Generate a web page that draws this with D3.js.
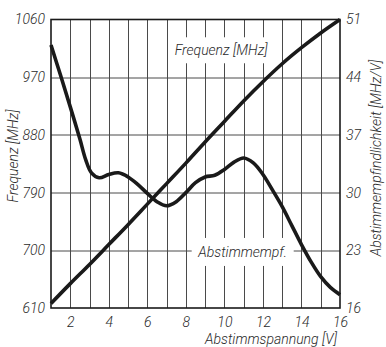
<!DOCTYPE html>
<html>
<head>
<meta charset="utf-8">
<script src="https://cdn.jsdelivr.net/npm/d3@7"></script>
<style>
  html, body { margin: 0; padding: 0; background: #fff; }
  svg { display: block; }
</style>
</head>
<body>
<div id="chart"></div>
<script>
/* Abstimmkurve: Frequenz und Abstimmempfindlichkeit über der Abstimmspannung */

// ── Data ──
var voltage = [1, 2, 3, 4, 5, 6, 7, 8, 9, 10, 11, 12, 13, 14, 15, 16];
var frequency = [617, 648, 678, 709, 740, 772, 804, 836, 869, 901, 933, 963, 991, 1016, 1039, 1060];

var sensVoltage = [1, 1.5, 2, 2.5, 2.8, 3.1, 3.5, 4, 4.5, 5, 5.5, 6, 6.5, 7, 7.5, 8, 8.5, 9, 9.5,
  10, 10.5, 11, 11.5, 12, 12.5, 13, 13.5, 14, 14.5, 15, 15.5, 16];
var sensitivity = [47.9, 44.2, 40.4, 36.5, 34.0, 32.4, 31.8, 32.2, 32.4, 31.9, 31.0, 29.9, 28.9, 28.4, 28.9,
  30.0, 31.2, 31.9, 32.1, 32.8, 33.7, 34.2, 33.6, 32.2, 30.3, 28.3, 26.0, 23.7, 21.6, 19.8, 18.5, 17.6];

var freqTicks = [610, 700, 790, 880, 970, 1060];
var sensTicks = [16, 23, 30, 37, 44, 51];
var xTickLabels = [2, 4, 6, 8, 10, 12, 14, 16];

(function () {
  'use strict';

  // ── Constants ──
  var WIDTH = 386;
  var HEIGHT = 347;
  var MARGIN = { top: 19.5, right: 46, bottom: 39, left: 51 };
  var FONT = 'Roboto, "Liberation Sans", sans-serif';
  var FONT_WEIGHT = 300;
  var INK = '#1a1a1a';
  var GRID = '#4a4a4a';
  var TEXT = '#2a2a2a';

  var innerW = WIDTH - MARGIN.left - MARGIN.right;
  var innerH = HEIGHT - MARGIN.top - MARGIN.bottom;

  var svg = d3.select('#chart').append('svg')
    .attr('width', WIDTH)
    .attr('height', HEIGHT);

  var g = svg.append('g')
    .attr('transform', 'translate(' + MARGIN.left + ',' + MARGIN.top + ')');

  // ── Scales ──
  var x = d3.scaleLinear().domain([1, 16]).range([0, innerW]);
  var yF = d3.scaleLinear().domain([610, 1060]).range([innerH, 0]);
  var yS = d3.scaleLinear().domain([16, 51]).range([innerH, 0]);

  // ── Grid ──
  g.append('g')
    .selectAll('line')
    .data(d3.range(2, 16))
    .join('line')
    .attr('x1', function (d) { return Math.round(x(d)) + 0.5; })
    .attr('x2', function (d) { return Math.round(x(d)) + 0.5; })
    .attr('y1', 0)
    .attr('y2', innerH)
    .attr('stroke', GRID)
    .attr('stroke-width', 1);

  g.append('g')
    .selectAll('line')
    .data(freqTicks.slice(1, -1))
    .join('line')
    .attr('x1', 0)
    .attr('x2', innerW)
    .attr('y1', function (d) { return Math.round(yF(d)) + 0.5; })
    .attr('y2', function (d) { return Math.round(yF(d)) + 0.5; })
    .attr('stroke', GRID)
    .attr('stroke-width', 1);

  // ── Axes (labels only, frame drawn separately) ──
  var leftAxis = g.append('g')
    .call(d3.axisLeft(yF).tickValues(freqTicks).tickFormat(d3.format('d')).tickSize(0).tickPadding(6));
  var rightAxis = g.append('g')
    .attr('transform', 'translate(' + innerW + ',0)')
    .call(d3.axisRight(yS).tickValues(sensTicks).tickFormat(d3.format('d')).tickSize(0).tickPadding(6));
  var bottomAxis = g.append('g')
    .attr('transform', 'translate(0,' + innerH + ')')
    .call(d3.axisBottom(x).tickValues(xTickLabels).tickFormat(d3.format('d')).tickSize(0).tickPadding(9));

  [leftAxis, rightAxis, bottomAxis].forEach(function (a) {
    a.select('.domain').remove();
    a.selectAll('text')
      .attr('font-family', FONT)
      .attr('font-style', 'italic')
      .attr('font-weight', FONT_WEIGHT)
      .attr('font-size', '14px')
      .attr('fill', TEXT);
  });

  // ── In-chart labels with white background ──
  function boxLabel(text, cx, cy, bw, bh) {
    g.append('rect')
      .attr('x', cx - bw / 2)
      .attr('y', cy - bh / 2)
      .attr('width', bw)
      .attr('height', bh)
      .attr('fill', '#fff');
    g.append('text')
      .attr('x', cx)
      .attr('y', cy)
      .attr('dy', '0.35em')
      .attr('text-anchor', 'middle')
      .attr('font-family', FONT)
      .attr('font-style', 'italic')
      .attr('font-weight', FONT_WEIGHT)
      .attr('font-size', '14px')
      .attr('fill', TEXT)
      .text(text);
  }

  boxLabel('Frequenz [MHz]', x(9.83), yF(1012), 104, 26);
  boxLabel('Abstimmempf.', x(10.95), yS(22.8), 102, 28);

  // ── Frame ──
  g.append('rect')
    .attr('x', 0)
    .attr('y', 0)
    .attr('width', innerW)
    .attr('height', innerH)
    .attr('fill', 'none')
    .attr('stroke', INK)
    .attr('stroke-width', 1.6);

  // ── Curves ──
  var freqLine = d3.line()
    .x(function (d, i) { return x(voltage[i]); })
    .y(function (d) { return yF(d); })
    .curve(d3.curveCatmullRom.alpha(0.5));

  var sensLine = d3.line()
    .x(function (d, i) { return x(sensVoltage[i]); })
    .y(function (d) { return yS(d); })
    .curve(d3.curveCatmullRom.alpha(0.5));

  g.append('path')
    .datum(frequency)
    .attr('d', freqLine)
    .attr('fill', 'none')
    .attr('stroke', INK)
    .attr('stroke-width', 3.6);

  g.append('path')
    .datum(sensitivity)
    .attr('d', sensLine)
    .attr('fill', 'none')
    .attr('stroke', INK)
    .attr('stroke-width', 3.6);

  // ── Axis titles ──
  function title(text, tx, ty, rotate, anchor) {
    svg.append('text')
      .attr('transform', 'translate(' + tx + ',' + ty + ')' + (rotate ? ' rotate(-90)' : ''))
      .attr('text-anchor', anchor)
      .attr('font-family', FONT)
      .attr('font-style', 'italic')
      .attr('font-weight', FONT_WEIGHT)
      .attr('font-size', '14px')
      .attr('fill', TEXT)
      .text(text);
  }

  title('Frequenz [MHz]', 18, 156, true, 'middle');
  title('Abstimmempfindlichkeit [MHz/V]', 381, 158, true, 'middle');
  title('Abstimmspannung [V]', MARGIN.left + innerW - 3, 344, false, 'end');
})();
</script>
</body>
</html>
